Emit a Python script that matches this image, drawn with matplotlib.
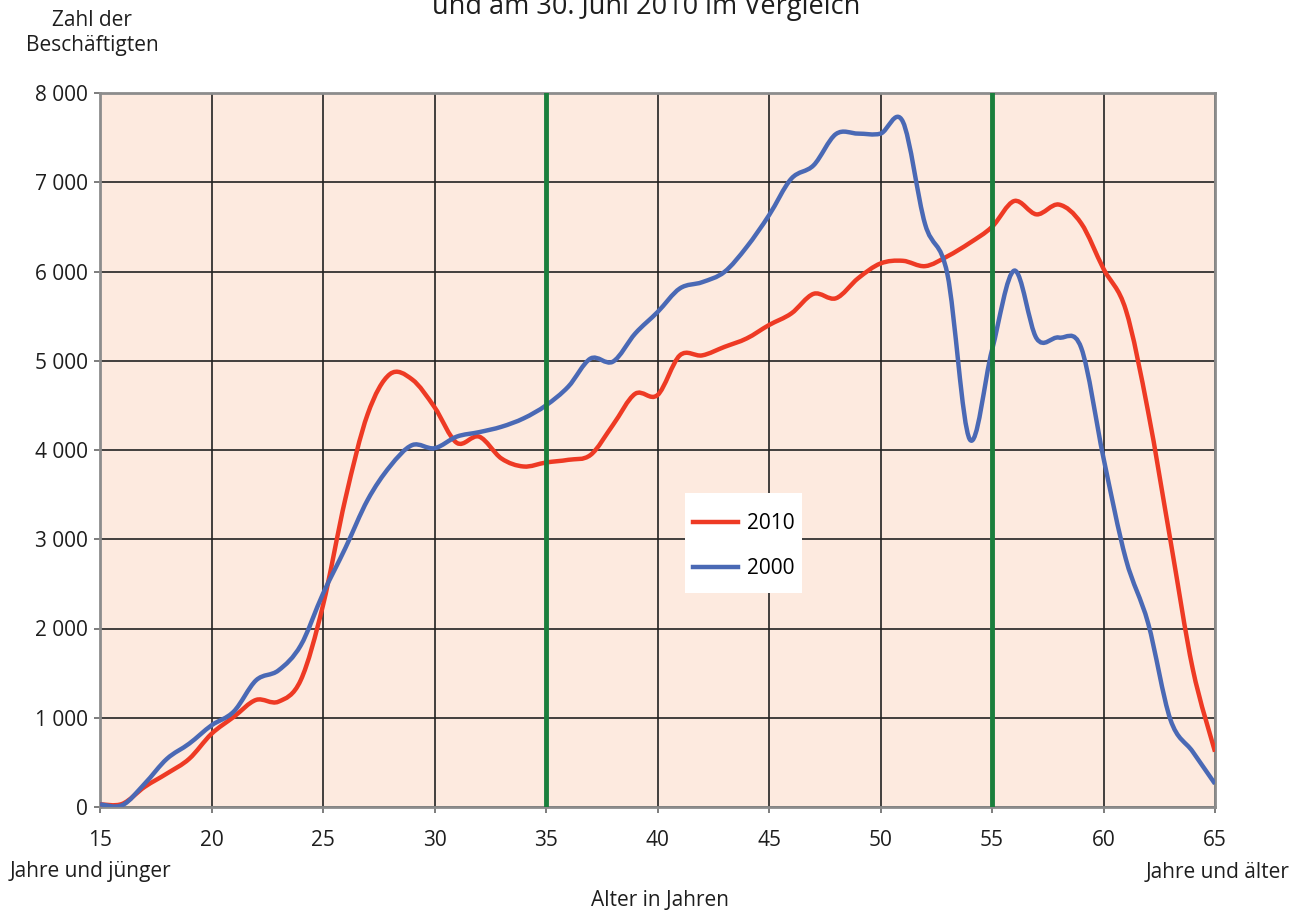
import numpy as np
import matplotlib
matplotlib.use("Agg")
import matplotlib.pyplot as plt
from matplotlib.path import Path
from matplotlib.patches import PathPatch, Rectangle

plt.rcParams['font.family'] = ['Open Sans', 'DejaVu Sans']

ages = list(range(15, 66))
emp_2010 = [30, 35, 225, 375, 540, 820, 1010, 1200, 1180, 1420,
            2260, 3450, 4400, 4850, 4790, 4480, 4080, 4150, 3905, 3815,
            3860, 3890, 3945, 4280, 4630, 4615, 5060, 5060, 5155, 5250,
            5400, 5530, 5750, 5700, 5925, 6090, 6120, 6060, 6170, 6320,
            6500, 6790, 6640, 6750, 6540, 6030, 5570, 4430, 2990, 1550,
            620]
emp_2000 = [30, 20, 260, 540, 710, 915, 1070, 1420, 1530, 1810,
            2390, 2900, 3440, 3815, 4055, 4020, 4150, 4200, 4260, 4355,
            4500, 4710, 5025, 4990, 5305, 5545, 5810, 5880, 5995, 6275,
            6630, 7040, 7190, 7540, 7545, 7545, 7680, 6530, 5970, 4120,
            5120, 6010, 5250, 5260, 5145, 3910, 2780, 2060, 980, 620,
            260]
series_labels = ["2010", "2000"]
marker_ages = [35, 55]
y_ticks = list(range(0, 8001, 1000))
x_ticks = list(range(15, 66, 5))

title_text = "und am 30. Juni 2010 im Vergleich"
xlabel_text = "Alter in Jahren"
left_note = "Jahre und jünger"
right_note = "Jahre und älter"

RED = "#ee3a24"
BLUE = "#4a69b5"
GREEN = "#1a7f3c"
BG = "#fdeadf"
TXT = "#1e1e1e"
FS = 15


def smooth_path(x, y):
    x = np.asarray(x, float)
    y = np.asarray(y, float)
    n = len(x)
    verts = [(x[0], y[0])]
    codes = [Path.MOVETO]
    for i in range(n - 1):
        i0 = max(i - 1, 0)
        i3 = min(i + 2, n - 1)
        c1 = (x[i] + (x[i + 1] - x[i0]) / 6.0, y[i] + (y[i + 1] - y[i0]) / 6.0)
        c2 = (x[i + 1] - (x[i3] - x[i]) / 6.0, y[i + 1] - (y[i3] - y[i]) / 6.0)
        verts += [c1, c2, (x[i + 1], y[i + 1])]
        codes += [Path.CURVE4] * 3
    return Path(verts, codes)


fig = plt.figure(figsize=(12.93, 9.11), dpi=100)
ax = fig.add_axes([100 / 1293, 1 - 807 / 911, 1115 / 1293, 714 / 911])
ax.set_facecolor(BG)
ax.set_xlim(15, 65)
ax.set_ylim(0, 8000)

ax.set_yticks(y_ticks)
ax.set_yticklabels([f"{v:,}".replace(",", " ") for v in y_ticks])
ax.set_xticks(x_ticks)
ax.set_xticklabels([str(v) for v in x_ticks])
ax.tick_params(axis='both', labelsize=FS, colors="#666666", labelcolor=TXT,
               length=4.5, width=1.2, direction='out')
ax.tick_params(axis='x', pad=12)
ax.tick_params(axis='y', pad=4)

ax.grid(True, color="#222222", linewidth=1.2, zorder=1)
ax.set_axisbelow(True)
for s in ax.spines.values():
    s.set_color("#8c8c8c")
    s.set_linewidth(2)

for data, col, lab in [(emp_2010, RED, series_labels[0]), (emp_2000, BLUE, series_labels[1])]:
    patch = PathPatch(smooth_path(ages, data), fill=False, edgecolor=col,
                      linewidth=3.2, zorder=3, capstyle='butt', joinstyle='round')
    ax.add_patch(patch)
    ax.plot([], [], color=col, linewidth=3.2, label=lab)

for a in marker_ages:
    ax.axvline(a, color=GREEN, linewidth=3.5, zorder=4)

# legend background box
bx0 = (685 - 100) / 1115
bx1 = (802 - 100) / 1115
by0 = (807 - 593) / 714
by1 = (807 - 493) / 714
ax.add_patch(Rectangle((bx0, by0), bx1 - bx0, by1 - by0, transform=ax.transAxes,
                       facecolor='white', edgecolor='none', zorder=5))
leg = ax.legend(loc='center', bbox_to_anchor=((bx0 + bx1) / 2, (by0 + by1) / 2 - 0.004),
                frameon=False, fontsize=FS, handlelength=2.2, borderpad=0,
                labelspacing=1.15, handletextpad=0.4, borderaxespad=0)
leg.set_zorder(6)

fig.text(0.5, 1 - 14 / 911, title_text, ha='center', va='baseline', fontsize=19.5, color=TXT)
fig.text(92 / 1293, 1 - 20 / 911, "Zahl der", ha='center', va='center', fontsize=FS, color=TXT)
fig.text(92 / 1293, 1 - 45 / 911, "Beschäftigten", ha='center', va='center', fontsize=FS, color=TXT)
fig.text(660 / 1293, 1 - 901 / 911, xlabel_text, ha='center', va='center', fontsize=FS, color=TXT)
fig.text(10 / 1293, 1 - 872 / 911, left_note, ha='left', va='center', fontsize=FS, color=TXT)
fig.text(1290 / 1293, 1 - 872 / 911, right_note, ha='right', va='center', fontsize=FS, color=TXT)

fig.savefig("out.png", dpi=100, facecolor='white')
